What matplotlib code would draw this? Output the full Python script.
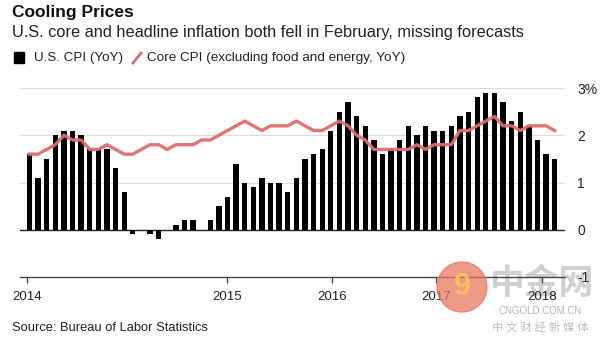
import numpy as np
import matplotlib
matplotlib.use("Agg")
import matplotlib.pyplot as plt
from matplotlib.patches import Rectangle, Circle
from matplotlib.lines import Line2D

plt.rcParams["font.family"] = ["Liberation Sans", "Noto Sans CJK SC", "DejaVu Sans"]

# monthly, Jan 2014 .. Feb 2019
cpi = [1.6, 1.1, 1.5, 2.0, 2.1, 2.1, 2.0, 1.7, 1.7, 1.7, 1.3, 0.8,
       -0.1, 0.0, -0.1, -0.2, 0.0, 0.1, 0.2, 0.2, 0.0, 0.2, 0.5, 0.7,
       1.4, 1.0, 0.9, 1.1, 1.0, 1.0, 0.8, 1.1, 1.5, 1.6, 1.7, 2.1,
       2.5, 2.7, 2.4, 2.2, 1.9, 1.6, 1.7, 1.9, 2.2, 2.0, 2.2, 2.1,
       2.1, 2.2, 2.4, 2.5, 2.8, 2.9, 2.9, 2.7, 2.3, 2.5, 2.2, 1.9,
       1.6, 1.5]
core = [1.6, 1.6, 1.7, 1.8, 2.0, 1.9, 1.9, 1.7, 1.7, 1.8, 1.7, 1.6,
        1.6, 1.7, 1.8, 1.8, 1.7, 1.8, 1.8, 1.8, 1.9, 1.9, 2.0, 2.1,
        2.2, 2.3, 2.2, 2.1, 2.2, 2.2, 2.2, 2.3, 2.2, 2.1, 2.1, 2.2,
        2.3, 2.2, 2.0, 1.9, 1.7, 1.7, 1.7, 1.7, 1.7, 1.8, 1.7, 1.8,
        1.8, 1.8, 2.1, 2.1, 2.2, 2.3, 2.4, 2.2, 2.2, 2.1, 2.2, 2.2,
        2.2, 2.1]
year_labels = ["2014", "2015", "2016", "2017", "2018"]
year_pos = [-0.3, 22.9, 35.1, 47.2, 59.5]
y_ticks = [3, 2, 1, 0, -1]
y_labels = ["3%", "2", "1", "0", "-1"]

W, H = 600, 340
RED = "#e06c6c"
fig = plt.figure(figsize=(6, 3.4), dpi=100)
ax = fig.add_axes([20 / W, 63 / H, 545 / W, 189 / H])
ax.patch.set_alpha(0)

x = np.arange(len(cpi))
ax.bar(x, cpi, width=0.62, color="black", zorder=3)
ax.plot(x, core, color=RED, lw=2.4, zorder=4, solid_joinstyle="round", alpha=0.95)

ax.set_xlim(-1.1, 62.2)
ax.set_ylim(-1, 3)

for v in [1, 2, 3]:
    ax.axhline(v, color="#dcdcdc", lw=0.9, zorder=1)
ax.axhline(0, color="#222222", lw=1.0, zorder=2)

for s in ["top", "left", "right"]:
    ax.spines[s].set_visible(False)
ax.spines["bottom"].set_color("#444444")
ax.spines["bottom"].set_linewidth(1.0)

ax.set_xticks(year_pos)
ax.set_xticklabels(year_labels, fontsize=9.5, color="#222222")
ax.tick_params(axis="x", length=4, width=0.9, color="#444444", pad=6)

ax.yaxis.tick_right()
ax.set_yticks(y_ticks)
ax.set_yticklabels(y_labels, fontsize=10, color="#222222", ha="left")
ax.tick_params(axis="y", length=0, pad=9)

# header
fig.text(12 / W, 1 - 13 / H, "Cooling Prices", fontsize=12.5, fontweight="bold",
         va="center", ha="left", color="#111111")
fig.text(12 / W, 1 - 32 / H, "U.S. core and headline inflation both fell in February, missing forecasts",
         fontsize=11.8, va="center", ha="left", color="#222222")

# legend
fig.add_artist(Rectangle((14 / W, 1 - 63 / H), 10 / W, 11 / H, transform=fig.transFigure,
                         color="black"))
fig.text(34 / W, 1 - 58 / H, "U.S. CPI (YoY)", fontsize=9.6, va="center", ha="left", color="#222222")
fig.add_artist(Line2D([133 / W, 141 / W], [1 - 63 / H, 1 - 53 / H], transform=fig.transFigure,
                      color=RED, lw=2))
fig.text(147 / W, 1 - 58 / H, "Core CPI (excluding food and energy, YoY)", fontsize=9.7,
         va="center", ha="left", color="#222222")

fig.text(12 / W, 1 - 328 / H, "Source: Bureau of Labor Statistics", fontsize=9.3,
         va="center", ha="left", color="#222222")

# watermark (grey text behind the axes, logo on top)
fig.add_artist(Circle((4.62, (H - 287) / 100), 0.25, transform=fig.dpi_scale_trans,
                      color="#e8735a", alpha=0.72, zorder=10))
fig.text(462 / W, 1 - 287 / H, "9", fontsize=22, fontweight="bold", color="#f7c35a",
         ha="center", va="center", zorder=11, alpha=0.9)
fig.text(542 / W, 1 - 284 / H, "中金网", fontsize=25, fontweight="bold", color="#d0d0d0",
         ha="center", va="center", zorder=-1)
fig.text(540 / W, 1 - 311 / H, "CNGOLD.COM.CN", fontsize=7, color="#b4b4b4",
         ha="center", va="center", zorder=-1)
fig.text(540 / W, 1 - 327 / H, "中 文 财 经 新 媒 体", fontsize=8, color="#bcbcbc",
         ha="center", va="center", zorder=-1)

fig.savefig("out.png", dpi=100)
